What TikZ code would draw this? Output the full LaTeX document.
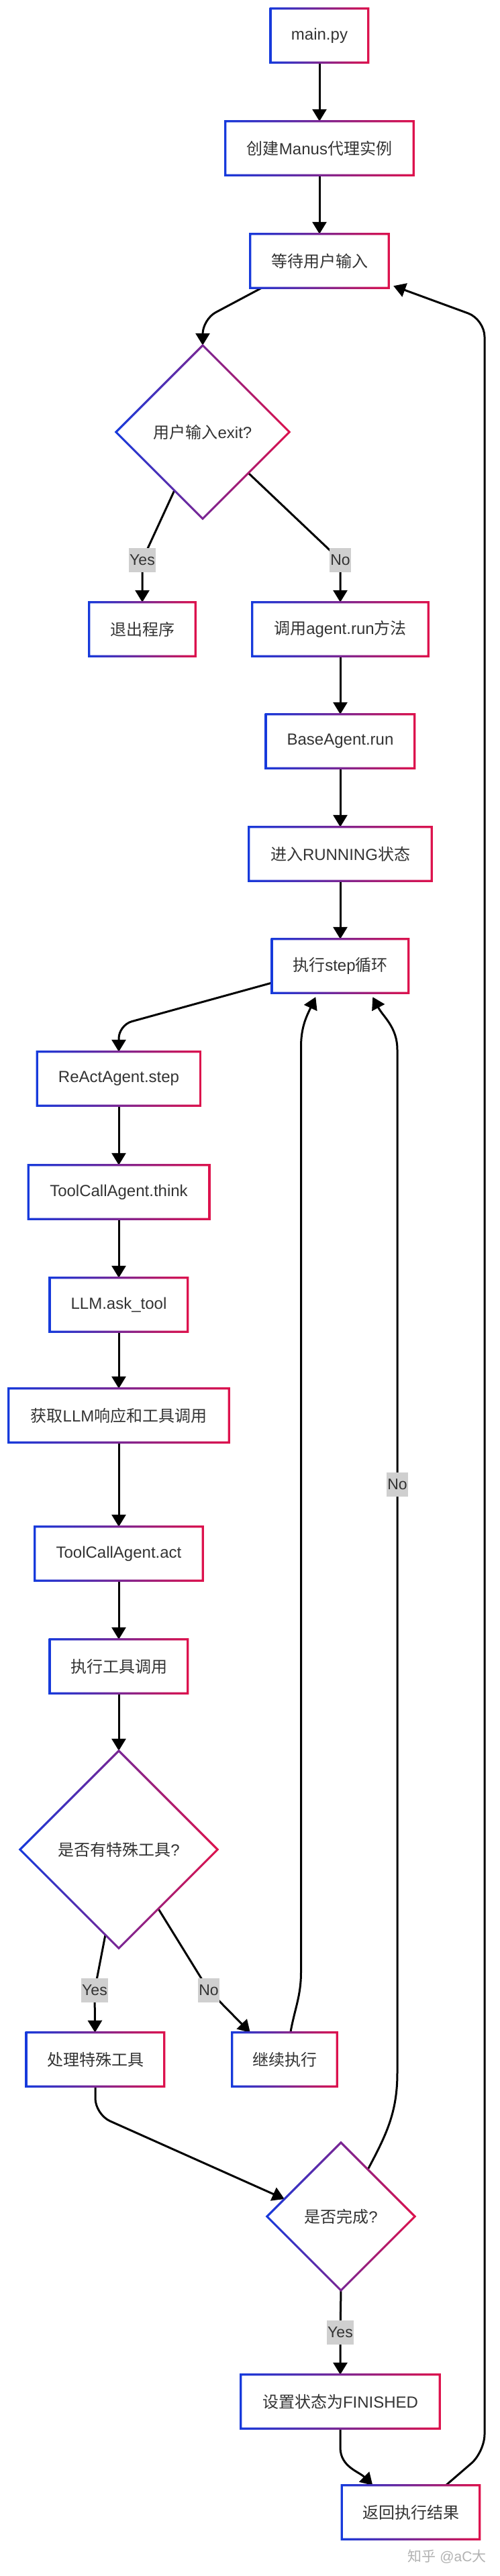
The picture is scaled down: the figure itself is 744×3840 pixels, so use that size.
\documentclass[tikz,border=0pt]{standalone}
\usepackage{fontspec}
\setmainfont{Liberation Sans}
\newfontfamily\cjk{Noto Sans CJK SC}
\usetikzlibrary{arrows.meta,calc,shapes.geometric}
\definecolor{cA}{RGB}{22,58,220}
\definecolor{cB}{RGB}{222,18,76}
\definecolor{txt}{RGB}{51,51,51}
\definecolor{lblgray}{RGB}{207,207,207}
\newcommand\fs{\fontsize{24pt}{28pt}\selectfont}
\newcommand\gbox[1]{%
  \shade[even odd rule,left color=cA,right color=cB]
    ($(#1.north west)+(-1.6pt,1.6pt)$) rectangle ($(#1.south east)+(1.6pt,-1.6pt)$)
    ($(#1.north west)+(1.6pt,-1.6pt)$) rectangle ($(#1.south east)+(-1.6pt,1.6pt)$);}
\newcommand\gdia[1]{%
  \shade[even odd rule,left color=cA,right color=cB]
    ($(#1.north)+(0pt,2.2pt)$) -- ($(#1.east)+(2.2pt,0pt)$) -- ($(#1.south)+(0pt,-2.2pt)$) -- ($(#1.west)+(-2.2pt,0pt)$) -- cycle
    ($(#1.north)+(0pt,-2.2pt)$) -- ($(#1.east)+(-2.2pt,0pt)$) -- ($(#1.south)+(0pt,2.2pt)$) -- ($(#1.west)+(2.2pt,0pt)$) -- cycle;}
\pgfdeclarelayer{bg}
\pgfdeclarelayer{edges}
\pgfsetlayers{bg,edges,main}
\begin{document}
\begin{tikzpicture}[x=1pt,y=1pt,
  box/.style={rectangle,minimum height=80pt,inner sep=0pt,fill=white,text=txt,font=\fs},
  dia/.style={diamond,inner sep=0pt,fill=white,text=txt,font=\fs},
  lbl/.style={rectangle,fill=lblgray,text=txt,font=\fontsize{23pt}{26pt}\selectfont,inner xsep=1pt,inner ysep=0pt,minimum height=36pt},
  arr/.style={line width=3pt,draw=black,-{Triangle[width=21pt,length=18pt]}},
  ln/.style={line width=3pt,draw=black}]
\useasboundingbox (0,0) rectangle (744,-3840);
\begin{pgfonlayer}{bg}
\fill[white] (0,0) rectangle (744,-3840);
\end{pgfonlayer}

% nodes
\node[box,minimum width=145pt] (main) at (476,-53) {main.py};
\node[box,minimum width=280pt] (create) at (476,-221) {{\cjk 创建}Manus{\cjk 代理实例}};
\node[box,minimum width=206pt] (wait) at (476,-389) {{\cjk 等待用户输入}};
\node[dia,minimum width=258pt,minimum height=258pt] (d1) at (302,-644) {{\cjk 用户输入}exit?};
\node[box,minimum width=158pt] (quit) at (212,-938) {{\cjk 退出程序}};
\node[box,minimum width=262pt] (callrun) at (507,-938) {{\cjk 调用}agent.run{\cjk 方法}};
\node[box,minimum width=221pt] (base) at (507,-1105) {BaseAgent.run};
\node[box,minimum width=272pt] (running) at (507,-1273) {{\cjk 进入}RUNNING{\cjk 状态}};
\node[box,minimum width=203pt] (steploop) at (507,-1440) {{\cjk 执行}step{\cjk 循环}};
\node[box,minimum width=243pt] (react) at (177,-1608) {ReActAgent.step};
\node[box,minimum width=269pt] (think) at (177,-1777) {ToolCallAgent.think};
\node[box,minimum width=205pt] (llm) at (177,-1945) {LLM.ask\_tool};
\node[box,minimum width=328pt] (getresp) at (177,-2110) {{\cjk 获取}LLM{\cjk 响应和工具调用}};
\node[box,minimum width=250pt] (act) at (177,-2316) {ToolCallAgent.act};
\node[box,minimum width=205pt] (exec) at (177,-2484) {{\cjk 执行工具调用}};
\node[dia,minimum width=294pt,minimum height=294pt] (d2) at (177,-2757) {{\cjk 是否有特殊工具}?};
\node[box,minimum width=205pt] (special) at (142,-3070) {{\cjk 处理特殊工具}};
\node[box,minimum width=156pt] (cont) at (424,-3070) {{\cjk 继续执行}};
\node[dia,minimum width=220pt,minimum height=220pt] (d3) at (508,-3304) {{\cjk 是否完成}?};
\node[box,minimum width=296pt] (fin) at (507,-3580) {{\cjk 设置状态为}FINISHED};
\node[box,minimum width=205pt] (ret) at (612,-3745) {{\cjk 返回执行结果}};

\foreach \n in {main,create,wait,quit,callrun,base,running,steploop,react,think,llm,getresp,act,exec,special,cont,fin,ret}{\gbox{\n}}
\foreach \n in {d1,d2,d3}{\gdia{\n}}

% labels
\node[lbl] (l1) at (212,-835) {Yes};
\node[lbl] (l2) at (507,-835) {No};
\node[lbl] (l3) at (141,-2967) {Yes};
\node[lbl] (l4) at (311,-2967) {No};
\node[lbl] (l5) at (592,-2213) {No};
\node[lbl] (l6) at (507,-3477) {Yes};

\node[text=black!30,font=\fontsize{21pt}{24pt}\selectfont] (wm) at (666,-3811) {{\cjk 知乎} @aC{\cjk 大}};

% edges
\begin{pgfonlayer}{edges}
\draw[arr] (main) -- (create);
\draw[arr] (create) -- (wait);
\draw[arr,rounded corners=22pt] ($(wait.south west)+(17pt,0pt)$) -- (302,-476) -- (d1.north);
\draw[arr,rounded corners=6pt] ($(d1.west)!0.674!(d1.south)$) -- (l1.center) -- (quit);
\draw[arr,rounded corners=6pt] ($(d1.south)!0.527!(d1.east)$) -- (l2.center) -- (callrun);
\draw[arr] (callrun) -- (base);
\draw[arr] (base) -- (running);
\draw[arr] (running) -- (steploop);
\draw[arr,rounded corners=20pt] ($(steploop.west)+(0pt,-25pt)$) -- (177,-1528) -- (react.north);
\draw[arr] (react) -- (think);
\draw[arr] (think) -- (llm);
\draw[arr] (llm) -- (getresp);
\draw[arr] (getresp) -- (act);
\draw[arr] (act) -- (exec);
\draw[arr] (exec) -- (d2);
\draw[arr,rounded corners=6pt] ($(d2.west)!0.864!(d2.south)$) -- (l3.center) -- (special);
\draw[arr] ($(d2.south)!0.40!(d2.east)$) -- (l4.center) -- ($(cont.north west)+(27pt,0pt)$);
\draw[arr] ($(cont.north west)+(87pt,0pt)$) to[out=80,in=-90] (448.5,-2940) -- (448.5,-1560) to[out=90,in=-115] ($(steploop.south west)+(65pt,-6pt)$);
\draw[arr,rounded corners=24pt] (special.south) -- (142,-3152) -- ($(d3.west)!0.236!(d3.north)$);
\draw[arr] ($(d3.north)!0.364!(d3.east)$) to[out=62,in=-90] (592,-3090) -- (l5.center) -- (592,-1565) to[out=90,in=-62] ($(steploop.south west)+(150pt,-6pt)$);
\draw[arr] (d3.south) -- (l6.center) -- (fin);
\draw[arr] (fin.south) -- ++(0pt,-28pt) to[out=-90,in=135] ($(ret.north west)+(46pt,0pt)$);
\draw[arr,rounded corners=26pt] ($(ret.north west)+(155pt,0pt)$) -- (722,-3655) -- (722,-476) -- ($(wait.south east)+(7pt,3pt)$);
\end{pgfonlayer}
\end{tikzpicture}
\end{document}
